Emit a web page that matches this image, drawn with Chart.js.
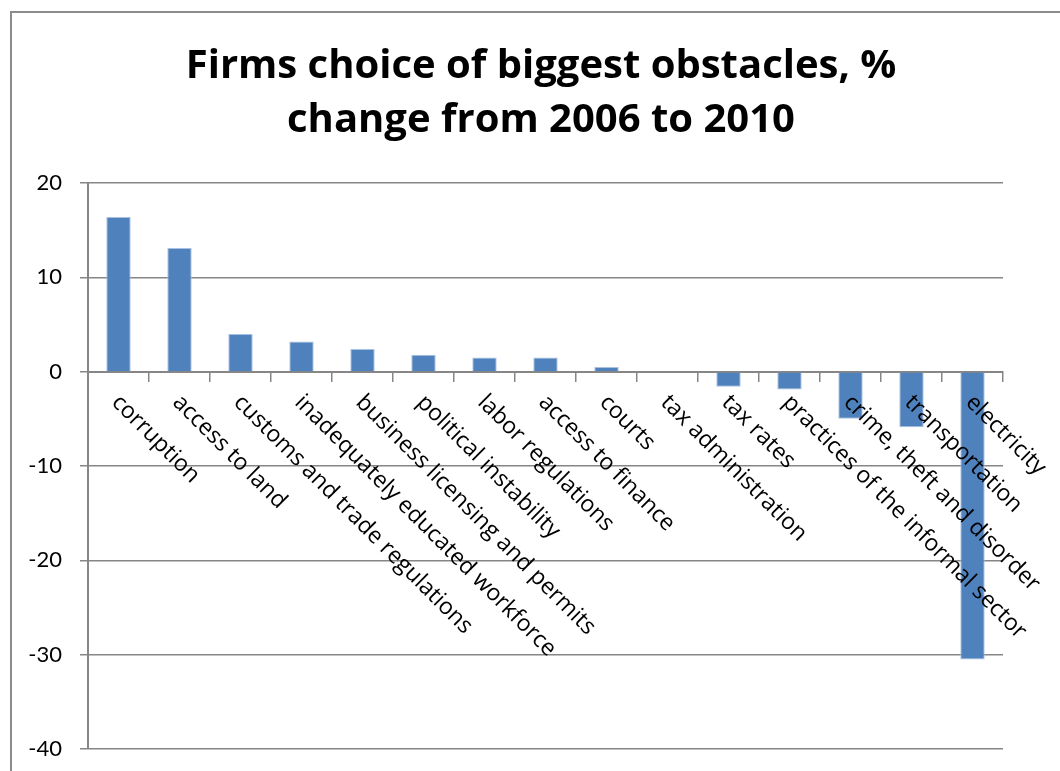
<!DOCTYPE html>
<html>
<head>
<meta charset="utf-8">
<script src="https://cdn.jsdelivr.net/npm/chart.js@4.4.1/dist/chart.umd.min.js"></script>
<style>
  html, body { margin: 0; padding: 0; background: #fff; overflow: hidden; }
  #wrap { position: relative; width: 1060px; height: 771px; }
  #frame { position: absolute; left: 10px; top: 11px; width: 1100px; height: 800px;
           border-left: 2px solid #8c8c8c; border-top: 2px solid #8c8c8c; pointer-events: none; }
</style>
</head>
<body>
<div id="wrap">
  <canvas id="c" width="1060" height="771"></canvas>
  <div id="frame"></div>
</div>
<script>
// Firms choice of biggest obstacles, % change 2006 -> 2010
const titleLines = ['Firms choice of biggest obstacles, %', 'change from 2006 to 2010'];
const obstacles = [
  'corruption', 'access to land', 'customs and trade regulations',
  'inadequately educated workforce', 'business licensing and permits',
  'political instability', 'labor regulations', 'access to finance', 'courts',
  'tax administration', 'tax rates', 'practices of the informal sector',
  'crime, theft and disorder', 'transportation', 'electricity'
];
const pctChange = [16.4, 13.1, 4.0, 3.2, 2.4, 1.8, 1.5, 1.5, 0.5, 0, -1.6, -1.9, -5.0, -5.9, -30.5];
const yTicks = [20, 10, 0, -10, -20, -30, -40];

const GRID = '#868686';
const FONT = '"Open Sans", Lato, sans-serif';

// title drawn by hand so it centres on the frame, not the plot
const titlePlugin = {
  id: 'frameTitle',
  afterDraw(chart) {
    const ctx = chart.ctx;
    ctx.save();
    ctx.fillStyle = '#000';
    ctx.font = 'bold 40px ' + FONT;
    ctx.textAlign = 'center';
    ctx.textBaseline = 'alphabetic';
    ctx.fillText(titleLines[0], 541, 78);
    ctx.fillText(titleLines[1], 541, 132);
    ctx.restore();
  }
};

// slanted category names hanging off the zero line
const slantLabels = {
  id: 'slantLabels',
  afterDatasetsDraw(chart) {
    const ctx = chart.ctx;
    const xs = chart.scales.x, ys = chart.scales.y;
    const y0 = ys.getPixelForValue(0);
    ctx.save();
    ctx.fillStyle = '#000';
    ctx.font = '23px ' + FONT;
    ctx.textAlign = 'left';
    ctx.textBaseline = 'top';
    obstacles.forEach((name, i) => {
      const x = xs.getPixelForValue(i);
      ctx.save();
      ctx.translate(x + 5, y0 + 19);
      ctx.rotate(Math.PI / 4);
      ctx.fillText(name, 0, 0);
      ctx.restore();
    });
    ctx.restore();
  }
};

new Chart(document.getElementById('c'), {
  type: 'bar',
  data: {
    labels: obstacles,
    datasets: [{
      data: pctChange,
      backgroundColor: '#4f81bd',
      borderColor: '#a9c0e0',
      borderWidth: 1,
      barPercentage: 0.4,
      categoryPercentage: 1.0,
    }],
  },
  options: {
    responsive: false,
    animation: false,
    events: [],
    layout: { padding: { left: 10, right: 57, top: 183, bottom: 22 } },
    plugins: { legend: { display: false }, title: { display: false }, tooltip: { enabled: false } },
    scales: {
      x: {
        position: { y: 0 },
        grid: { drawOnChartArea: false, color: GRID, lineWidth: 1.5, tickLength: 9 },
        border: { color: GRID, width: 2 },
        ticks: { display: false },
      },
      y: {
        min: yTicks[yTicks.length - 1],
        max: yTicks[0],
        afterBuildTicks(s) { s.ticks = yTicks.map(v => ({ value: v })); },
        afterFit(s) { s.width = 78; s.paddingTop = 0; s.paddingBottom = 0; },
        grid: { color: GRID, lineWidth: 1.5, tickLength: 8 },
        border: { color: GRID, width: 2 },
        ticks: { font: { family: 'Lato, sans-serif', size: 22 }, color: '#000', padding: 18 },
      },
    },
  },
  plugins: [slantLabels, titlePlugin],
});
</script>
</body>
</html>
